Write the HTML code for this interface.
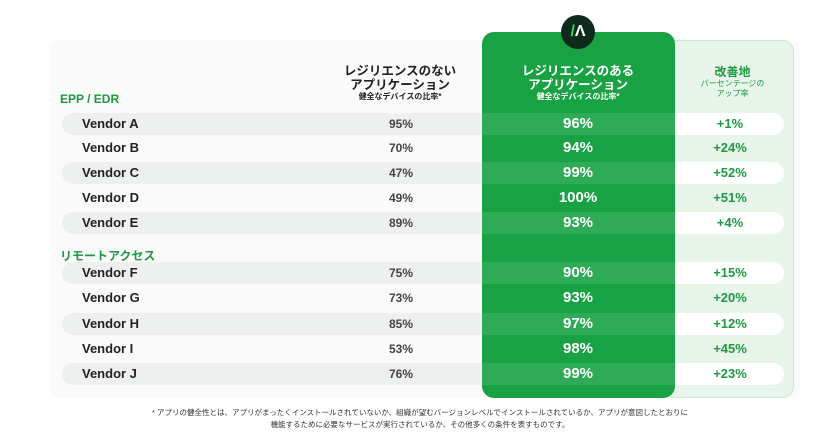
<!DOCTYPE html>
<html><head><meta charset="utf-8">
<style>
body{margin:0;width:840px;height:448px;background:#fff;overflow:hidden;font-family:"Liberation Sans","Noto Sans CJK JP",sans-serif;position:relative}
.abs{position:absolute}
</style></head><body>
<div class="abs" style="left:50px;top:40px;width:750px;height:358px;background:#f9faf9;border-radius:10px"></div>
<div class="abs" style="left:670px;top:40px;width:122px;height:356px;background:#e8f5ea;border:1.5px solid #c9e8cf;border-radius:0 12px 12px 0"></div>
<div class="abs" style="left:482px;top:32px;width:193px;height:366px;background:#18a244;border-radius:12px"></div>
<div class="abs" style="left:561px;top:15px;width:34px;height:34px;border-radius:50%;background:#0d2a1a;color:#fff;font-weight:bold;font-size:16px;line-height:34px;text-align:center"><span style="color:#2fd36a">/</span>Λ</div>
<div class="abs" style="left:330px;top:64px;width:140px;text-align:center;color:#222;font-weight:bold;font-size:12.5px;line-height:14px">レジリエンスのない<br>アプリケーション<div style="font-size:8px;line-height:10px">健全なデバイスの比率*</div></div>
<div class="abs" style="left:490px;top:64px;width:176px;text-align:center;color:#fff;font-weight:bold;font-size:12.5px;line-height:14px">レジリエンスのある<br>アプリケーション<div style="font-size:8px;line-height:10px">健全なデバイスの比率*</div></div>
<div class="abs" style="left:675px;top:66px;width:115px;text-align:center;color:#1e9a43;font-weight:bold;font-size:12px;line-height:13px">改善地<div style="font-size:8px;line-height:10px;font-weight:normal">パーセンテージの<br>アップ率</div></div>
<div id="rows"></div>
<div class="abs" style="left:60px;top:407px;width:720px;text-align:center;font-size:7.5px;line-height:12px;color:#333">* アプリの健全性とは、アプリがまったくインストールされていないか、組織が望むバージョンレベルでインストールされているか、アプリが意図したとおりに<br>機能するために必要なサービスが実行されているか、その他多くの条件を表すものです。</div>
<script>
const groups=["EPP / EDR","リモートアクセス"];
const groupY=[100,255];
const vendors=["Vendor A","Vendor B","Vendor C","Vendor D","Vendor E","Vendor F","Vendor G","Vendor H","Vendor I","Vendor J"];
const without=[95,70,47,49,89,75,73,85,53,76];
const withRes=[96,94,99,100,93,90,93,97,98,99];
const improve=[1,24,52,51,4,15,20,12,45,23];
const rowY=[124,148,173,198,223,273,298,324,349,374];
const shaded=[1,0,1,0,1,1,0,1,0,1];
const root=document.getElementById('rows');
function mk(style,text){const d=document.createElement('div');d.className='abs';d.style.cssText=style;if(text!==undefined)d.textContent=text;root.appendChild(d);return d;}
groups.forEach((g,i)=>{
 const d=mk(`left:60px;top:${groupY[i]-8}px;color:#1e9a43;font-weight:bold;font-size:12px`,g);
 
 
});
vendors.forEach((v,i)=>{
 const y=rowY[i];
 if(shaded[i]){
  const p=mk(`left:62px;top:${y-11}px;width:420px;height:22px;background:#eef0ef;border-radius:11px 0 0 11px`);
  
  
  const g=mk(`left:482px;top:${y-11}px;width:193px;height:22px;background:rgba(255,255,255,0.1)`);
  
  
  const w=mk(`left:675px;top:${y-11}px;width:109px;height:22px;background:#fff;border-radius:0 11px 11px 0`);
  
  
 }
 const a=mk(`left:82px;top:${y-8}px;font-weight:bold;font-size:13px;color:#222`,v);
 
 
 const b=mk(`left:361px;width:80px;text-align:center;top:${y-7}px;font-weight:bold;font-size:12px;color:#444`,without[i]+'%');
 
 
 const c=mk(`left:518px;width:120px;text-align:center;top:${y-9}px;font-weight:bold;font-size:15px;color:#fff`,withRes[i]+'%');
 
 
 const e=mk(`left:680px;width:100px;text-align:center;top:${y-8}px;font-weight:bold;font-size:13px;color:#1e9a43`,'+'+improve[i]+'%');
 
 
});
</script>
</body></html>
